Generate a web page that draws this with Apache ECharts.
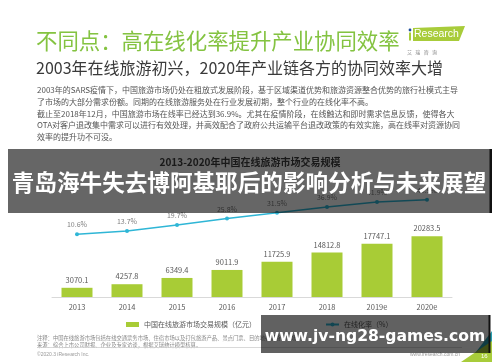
<!DOCTYPE html>
<html><head><meta charset="utf-8">
<script src="https://cdn.jsdelivr.net/npm/echarts@6/dist/echarts.min.js"></script>
<style>html,body{margin:0;padding:0;background:#fff}#c{width:500px;height:362px}</style>
</head><body><div id="c"></div>
<script>
const categories = ['2013','2014','2015','2016','2017','2018','2019e','2020e'];
const marketSize = [3070.1, 4257.8, 6349.4, 9011.9, 11725.9, 14812.8, 17747.1, 20283.5];
const onlineRate = [10.6, 13.7, 19.7, 25.8, 31.5, 36.9, 41.9, 43.9];
const seriesNames = ['中国在线旅游市场交易规模（亿元）', '在线化率（%）'];
const chartTitle = '2013-2020年中国在线旅游市场交易规模';
const slideTitle = '不同点：高在线化率提升产业协同效率';
const slideSubtitle = '2003年在线旅游初兴，2020年产业链各方的协同效率大增';
const paragraph = [
 '2003年的SARS疫情下，中国旅游市场仍处在粗放式发展阶段，基于区域渠道优势和旅游资源整合优势的旅行社模式主导',
 '了市场的大部分需求份额。同期的在线旅游服务处在行业发展初期，整个行业的在线化率不高。',
 '截止至2018年12月，中国旅游市场在线率已经达到36.9%。尤其在疫情阶段，在线触达和即时需求信息反馈，使得各大',
 'OTA对客户退改集中需求可以进行有效处理，并高效配合了政府公共运输平台退改政策的有效实施，高在线率对资源协同',
 '效率的提升功不可没。'
];
const notes = [
 '注释：中国在线旅游市场包括在线交通票务市场、住宿市场以及打包旅游产品、景点门票、目的地参团游等市场。',
 '来源：综合上市公司财报、企业及专家访谈，根据艾瑞统计模型核算。'
];
const bannerText = '青岛海牛失去博阿基耶后的影响分析与未来展望';
const urlText = 'www.jv-ng28-games.com';

const CJK = '"Noto Sans CJK SC", "Noto Sans", sans-serif';
const chart = echarts.init(document.getElementById('c'), null, {renderer:'canvas'});

const graphics = [];
function txt(text, x, y, size, color, opts) {
  opts = opts || {};
  graphics.push({type:'text', x:x, y:y, z: opts.z || 10, style:{text:text, fontSize:size, fontFamily: opts.family || CJK,
    fontWeight: opts.weight || 'normal', fill:color, verticalAlign:'middle', align: opts.align || 'left'}});
}
txt(slideTitle, 36, 41, 21.4, '#84c341');
txt(slideSubtitle, 36, 68, 16, '#3a3a3a');
paragraph.forEach((l, i) => txt(l, 37, 90 + i * 11.8, 8, '#555555'));
// logo
graphics.push({type:'polygon', z:10, shape:{points:[[413,28],[465,26],[459,41],[413,41]]}, style:{fill:'#a8cc3a'}});
graphics.push({type:'rect', z:11, shape:{x:409,y:32.5,width:2,height:8}, style:{fill:'#a8cc3a'}});
graphics.push({type:'circle', z:11, shape:{cx:410,cy:30,r:1.4}, style:{fill:'#1f4e9c'}});
txt('Research', 414, 34.5, 10.5, '#ffffff', {family:'"Liberation Sans", sans-serif', z:11});
txt('艾   瑞   咨   询', 407, 52, 5, '#888888');
// footer
notes.forEach((l, i) => txt(l, 37, 337.5 + i * 7, 5.3, '#888888'));
graphics.push({type:'line', z:10, shape:{x1:37,y1:347.5,x2:462,y2:347.5}, style:{stroke:'#cfcfcf', lineWidth:0.8}});
txt('©2020.3 iResearch Inc.', 37, 354.5, 5, '#999999', {family:'"Liberation Sans", sans-serif'});
txt('www.iresearch.com.cn', 460, 354.5, 5, '#999999', {family:'"Liberation Sans", sans-serif', align:'right'});
graphics.push({type:'polygon', z:10, shape:{points:[[476,352],[492,331],[492,352]]}, style:{fill:'#2a9fb0'}});
graphics.push({type:'polygon', z:10, shape:{points:[[461,362],[492,341],[492,362]]}, style:{fill:'#a8cc3a'}});
txt('16', 481, 356, 6, '#ffffff', {family:'"Liberation Sans", sans-serif', z:11});
// overlay banners
graphics.push({type:'rect', z:100, shape:{x:8,y:149,width:484,height:64}, style:{fill:'rgba(0,0,0,0.6)'}});
graphics.push({type:'rect', z:101, shape:{x:489.5,y:149,width:2.5,height:64}, style:{fill:'#111'}});
txt(bannerText, 249, 182, 22.6, '#ffffff', {weight:'bold', align:'center', z:102});
graphics.push({type:'rect', z:100, shape:{x:261,y:315,width:229,height:38}, style:{fill:'rgba(0,0,0,0.62)'}});
graphics.push({type:'rect', z:101, shape:{x:488.5,y:315,width:2,height:38}, style:{fill:'#111'}});
txt(urlText, 375, 336.5, 15.6, '#ffffff', {weight:'bold', align:'center', z:102, family:'"DejaVu Sans", sans-serif'});

chart.setOption({
  animation:false,
  backgroundColor:'#ffffff',
  title:{text:chartTitle, left:'center', top:152, textStyle:{fontSize:10, fontWeight:'bold', color:'#404040', fontFamily:CJK}},
  grid:{left:52, right:48, top:147, bottom:65},
  legend:{left:121, top:316, itemGap:69, itemWidth:13, itemHeight:5,
    textStyle:{fontSize:7, color:'#595959', fontFamily:CJK},
    data:[{name:seriesNames[0], icon:'rect'}, {name:seriesNames[1]}]},
  xAxis:{type:'category', data:categories, boundaryGap:true,
    axisLine:{lineStyle:{color:'#d9d9d9', width:1}}, axisTick:{show:false},
    axisLabel:{fontSize:7.5, color:'#595959', margin:6, fontFamily:CJK}},
  yAxis:[{type:'value', min:0, max:50000, show:false, splitLine:{show:false}},
         {type:'value', min:-50, max:95, show:false, splitLine:{show:false}}],
  series:[
    {name:seriesNames[0], type:'bar', data:marketSize, barWidth:31, itemStyle:{color:'#a8cc36'},
     label:{show:true, position:'top', distance:4, fontSize:7.5, color:'#595959', fontFamily:CJK}},
    {name:seriesNames[1], type:'line', yAxisIndex:1, data:onlineRate, symbol:'circle', symbolSize:4,
     itemStyle:{color:'#2fb6d6'}, lineStyle:{color:'#2fb6d6', width:1.5},
     label:{show:true, position:'top', distance:4, fontSize:7, color:'#7f7f7f', formatter:'{c}%', fontFamily:CJK}}
  ],
  graphic:graphics
});
</script></body></html>
